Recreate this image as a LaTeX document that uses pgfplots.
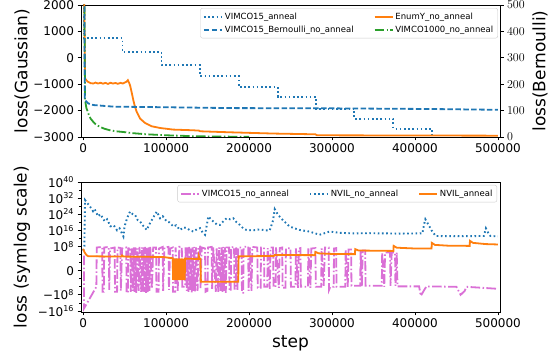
\documentclass[border=0pt]{standalone}
\usepackage{fontspec}
\setmainfont{DejaVu Sans}
\usepackage{pgfplots}
\pgfplotsset{compat=1.18}
\definecolor{tabblue}{HTML}{1F77B4}
\definecolor{taborange}{HTML}{FF7F0E}
\definecolor{tabgreen}{HTML}{2CA02C}
\definecolor{orchid}{HTML}{DA70D6}
\newcommand{\lblfont}{\fontsize{17}{20}\selectfont}
\pgfplotsset{
  base/.style={scale only axis, width=419pt, xmin=-2500, xmax=502500,
    scaled x ticks=false, scaled y ticks=false,
    tick align=outside, major tick length=3.5pt, minor tick length=2pt,
    ticklabel style={font=\fontsize{12}{14}\selectfont},
    axis line style={line width=0.8pt},
    every tick/.style={black, line width=0.8pt},
    legend image code/.code={\draw[##1] (0pt,0pt) -- (18pt,0pt);},
    legend cell align=left,
  },
  lw/.style={line width=1.8pt},
  dot/.style={line width=1.9pt, dash pattern=on 1.6pt off 2.6pt},
  dsh/.style={line width=1.8pt, dash pattern=on 5.5pt off 2.4pt},
  dd/.style={line width=1.8pt, dash pattern=on 9.6pt off 2.4pt on 1.5pt off 2.4pt},
}
\begin{document}
\begin{tikzpicture}
\useasboundingbox (0,0) rectangle (556pt,355pt);
% ---------------- top panel, left axis (Gaussian)
\begin{axis}[base, at={(81pt,218pt)}, anchor=south west, height=132pt,
  ymin=-3000, ymax=2000, xtick pos=bottom, ytick pos=left,
  xtick={0,100000,200000,300000,400000,500000},
  xticklabels={0,100000,200000,300000,400000,500000},
  ytick={-3000,-2000,-1000,0,1000,2000},
  yticklabels={−3000,−2000,−1000,0,1000,2000},
  ylabel={loss(Gaussian)},
  every axis y label/.style={at={(axis description cs:-0.1408,0.5)}, rotate=90, anchor=center, font=\lblfont},
]
\addplot[tabblue, dot] coordinates {(0,2500)(1200,2500)(1200,736)(47500,736)(47500,227)(94500,227)(94500,-278)(141000,-278)(141000,-696)(187500,-696)(187500,-1102)(234500,-1102)(234500,-1482)(280500,-1482)(280500,-1923)(327000,-1923)(327000,-2303)(374000,-2303)(374000,-2683)(420500,-2683)(420500,-3300)};
\addplot[taborange, lw] coordinates {(0,2500)(1500,2000)(2400,-784)(4000,-850)(6000,-912)(9000,-960)(12400,-973)(15000,-940)(18000,-975)(21000,-945)(24000,-980)(27000,-950)(30000,-990)(33000,-945)(36000,-975)(39000,-955)(42000,-985)(45000,-950)(48000,-975)(50000,-940)(52600,-900)(54000,-848)(55500,-950)(56600,-1038)(58500,-1300)(60600,-1607)(62500,-1850)(64700,-2051)(68700,-2303)(74700,-2469)(82700,-2594)(92800,-2659)(108800,-2720)(132900,-2746)(140000,-2760)(141000,-2784)(177000,-2822)(230000,-2870)(280000,-2898)(282000,-2936)(500000,-2950)};
\addplot[tabgreen, dd] coordinates {(0,2500)(1500,2500)(2400,-1607)(4000,-1900)(6400,-2112)(9000,-2300)(12400,-2431)(16000,-2540)(20500,-2621)(26000,-2690)(32500,-2746)(40000,-2785)(48600,-2811)(60000,-2855)(76700,-2898)(100800,-2936)(137000,-2974)(170000,-2985)(200000,-2995)};
\end{axis}
% ---------------- top panel, right axis (Bernoulli)
\begin{axis}[base, at={(81pt,218pt)}, anchor=south west, height=132pt,
  ymin=0, ymax=500, hide x axis, axis y line*=right,
  ytick={0,100,200,300,400,500},
  ylabel={loss(Bernoulli)},
  every axis y label/.style={at={(axis description cs:1.0955,0.5)}, rotate=90, anchor=center, font=\lblfont},
  legend columns=2,
  legend style={at={(rel axis cs:0.995,0.977)}, anchor=north east,
    draw=black!20, rounded corners=2pt, fill=white, fill opacity=0.8, text opacity=1,
    font=\fontsize{8.5}{10}\selectfont, inner sep=2.5pt, row sep=1pt,
    /tikz/every even column/.append style={column sep=18pt}},
]
\addlegendimage{tabblue, dot}\addlegendentry{VIMCO15\_anneal}
\addlegendimage{taborange, lw}\addlegendentry{EnumY\_no\_anneal}
\addlegendimage{tabblue, dsh}\addlegendentry{VIMCO15\_Bernoulli\_no\_anneal}
\addlegendimage{tabgreen, dd}\addlegendentry{VIMCO1000\_no\_anneal}
\addplot[tabblue, dsh, forget plot] coordinates {(0,700)(1500,700)(2000,140)(6400,127)(12400,121)(36500,115)(117000,112)(177000,109.5)(300000,108.5)(420000,106)(500000,103)};
\end{axis}
% ---------------- bottom panel (symlog)
\begin{axis}[base, at={(81pt,43pt)}, anchor=south west, height=130pt,
  ymin=-20.5, ymax=44, xtick pos=bottom, ytick pos=left,
  xtick={0,100000,200000,300000,400000,500000},
  xticklabels={0,100000,200000,300000,400000,500000},
  ytick={-20,-12,0,12,20,28,36,44},
  yticklabels={−10\textsuperscript{16},−10\textsuperscript{8},0,10\textsuperscript{8},10\textsuperscript{16},10\textsuperscript{24},10\textsuperscript{32},10\textsuperscript{40}},
  minor ytick={-16,-8,-4,4,8,16,24,32,40},
  xlabel={step},
  ylabel={loss (symlog scale)},
  every axis y label/.style={at={(axis description cs:-0.1408,0.5)}, rotate=90, anchor=center, font=\lblfont},
  every axis x label/.style={at={(axis description cs:0.5,-0.238)}, anchor=center, font=\lblfont},
  legend columns=3,
  legend style={at={(rel axis cs:0.993,0.977)}, anchor=north east,
    draw=black!20, rounded corners=2pt, fill=white, fill opacity=0.8, text opacity=1,
    font=\fontsize{8.5}{10}\selectfont, inner sep=2.5pt,
    /tikz/every even column/.append style={column sep=18pt}},
]
\addplot[orchid, dd] coordinates {(0,7)(1200,7)(1200,-18.7)(16000,-8)(16500,11.5)(23000,11.8)(23500,-10.5)(25000,-10.5)(25500,11.5)(31000,11.8)(31500,-9.5)(32500,11)(38000,11.5)(38500,-10.5)(41000,-10.5)(41500,11.5)(45000,11.3)(45500,-10)(47000,11)(52000,11.5)(52500,-11)(54000,-11)(54500,11)(57000,11.5)(57500,-10.5)(58500,11)(60000,-10)(61000,11.5)(62000,-10.5)(63000,11.5)(64000,-11)(65500,11)(67000,-10)(68000,11.8)(70000,-10.5)(71000,11.5)(72000,-11)(73000,11.5)(74000,-10.5)(75000,11.8)(76000,-11)(77000,11.5)(78000,-10.8)(79000,11.5)(80000,-10)(81000,11.8)(83000,-9)(84500,11.5)(88000,11.5)(88500,-10.5)(91000,-10.5)(91500,11)(96000,11.8)(96500,-10)(98000,11.5)(103000,11.8)(103500,-9.5)(105000,11)(108000,11.5)(108500,-10.5)(111000,-10.5)(111500,11.5)(114000,-10)(116000,11.8)(119000,11.8)(119500,-8)(123000,-8)(123500,11.5)(125000,-10)(126000,11.5)(127000,-10.5)(128000,11.8)(129000,-10)(130000,11.5)(131000,-10.8)(132000,11.5)(133000,-10)(134000,11.8)(135000,-10.5)(136000,11.5)(138000,-10)(139000,12)(141000,12)(141500,-9)(143000,11.5)(147000,11)(147500,-10.5)(150000,-10)(150500,11.5)(155000,11.8)(155500,-9)(157000,11.5)(160000,-10.5)(161000,11)(163000,-11)(164000,11.5)(166000,-10)(167000,11.5)(168000,-10.5)(169000,11.8)(170000,-10)(171000,11.5)(172000,-11)(173000,11.5)(176000,11.5)(176500,-10)(178000,-10)(178500,11.5)(182000,11.8)(182500,-9)(184000,-9)(184500,11.5)(186000,-10)(187000,11.5)(191000,11.5)(191500,-11)(193000,-11)(193500,11.8)(199000,12)(199500,-10)(201000,11.5)(203000,-10)(204000,11.8)(210000,11.5)(210500,-8.5)(214000,-8.5)(214500,11.5)(218000,11.5)(218500,-8)(222000,-8)(222500,11.2)(225000,-9)(226000,11.5)(229000,11.5)(229500,-8)(232000,-8)(232500,11.5)(236000,-8.5)(237000,11.2)(240000,11.5)(240500,-8.5)(244000,-8.5)(244500,11)(250000,11.2)(250500,-8)(256000,-8)(256500,11)(259000,-8.5)(260000,11)(262000,11.2)(262500,-8)(271000,-8)(271500,11)(274000,-8.5)(275000,11)(280000,11.2)(280500,-8)(287000,-8)(287500,11)(290000,-7.5)(291500,11.5)(296000,11.5)(296500,-9.5)(298000,-8)(302000,-8)(302500,11)(305000,11.2)(305500,-8)(316000,-8)(316500,10.5)(319000,-8)(320000,10.5)(323000,10.5)(323500,-7.5)(334000,-7.5)(334500,10)(336000,-8)(337000,10)(340000,10)(340500,-7.5)(360000,-7.5)(360500,9)(363000,-8)(364000,9)(370000,9)(370500,-7.5)(372000,9)(376000,9)(376500,-7.5)(378000,9)(379000,-7.8)(405000,-7.8)(407000,-12.5)(412000,-9)(414000,-7.8)(450000,-8)(455000,-12)(460000,-10)(462000,-8)(500000,-9)};
\addlegendentry{VIMCO15\_no\_anneal}
\addplot[tabblue, dot] coordinates {(0,10)(1500,12)(2400,35)(8400,31.8)(12000,29.5)(14000,30.5)(18000,27)(21000,28)(26000,24.5)(29000,25.5)(33000,22)(37000,22.5)(41000,20)(44000,21)(48600,17)(50000,22)(53000,26)(56600,29.3)(60000,28)(62600,27.7)(66000,25)(68700,24.4)(72000,22.5)(76700,20.2)(80000,23)(84000,26)(88800,29.3)(92800,26)(96000,27)(100800,24.4)(104000,24)(108800,21.9)(112000,22.5)(116900,20.2)(121000,21.5)(124900,21.1)(129000,20)(132900,19.4)(137000,20.5)(141000,21.1)(144000,19)(147000,17.8)(151000,26.9)(154000,25.5)(157000,24.4)(161000,23)(165000,22.7)(169000,24.5)(173000,26)(177000,25.5)(181000,26)(185000,24)(189000,22.7)(193000,21)(197000,20.2)(205000,20)(213000,20.5)(220000,20)(225000,20)(229000,25)(231000,30.5)(235000,27.7)(241000,25)(249000,21.9)(255000,21)(261000,20.2)(273000,19.4)(285000,17.8)(297000,19.4)(309000,18.8)(325000,18.5)(345000,18.6)(380000,18.4)(409000,18.5)(411000,23)(412500,25.5)(416000,23)(420000,20)(425000,17.2)(450000,17.1)(483000,17.2)(485500,21)(488000,19)(491000,17.2)(500000,17)};
\addlegendentry{NVIL\_no\_anneal}
\addplot[taborange, lw] coordinates {(0,10.8)(2000,9.0)(4000,7.8)(6000,7.2)(20000,7.1)(46000,7.0)(47000,7.6)(48500,7.0)(95000,6.8)(100000,6.6)(108000,6.2)(108500,-4.5)(109000,6)(109500,-4.7)(110000,6.1)(110500,-4.6)(111000,6)(111500,-4.7)(112000,6)(112500,-4.5)(113000,6.1)(113500,-4.7)(114000,6)(114500,-4.6)(115000,6)(115500,-4.7)(116000,6.1)(116500,-4.5)(117000,6)(117500,-4.7)(118000,6)(118500,-4.6)(119000,6.1)(119500,-4.7)(120000,6)(120500,-4.5)(121000,6)(121500,-4.7)(122000,6)(122500,-4.6)(123000,6)(130000,5.9)(139000,5.8)(139500,7.4)(140500,5.8)(141500,5.8)(142000,-5.5)(187000,-5.5)(187500,7.1)(230000,7.3)(231000,7.8)(279500,7.7)(280000,9.3)(284000,8.6)(300000,8.3)(327700,8.2)(328000,10.7)(332000,10.0)(374000,9.8)(374300,12.3)(378000,11.4)(400000,11.0)(420000,11.0)(420300,13.8)(424000,12.8)(440000,12.4)(466000,12.3)(466300,14.8)(470000,13.8)(485000,13.2)(500000,13.0)};
\addlegendentry{NVIL\_anneal}
\end{axis}
\end{tikzpicture}
\end{document}
